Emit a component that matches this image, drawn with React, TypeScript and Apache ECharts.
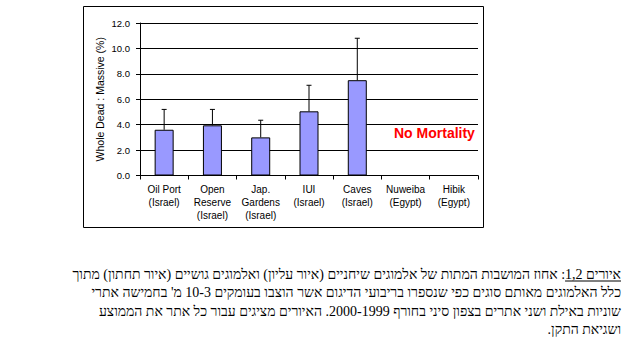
import React, { useEffect, useRef } from "react";
import * as echarts from "echarts";

// ---- data ----
const categories: string[] = [
  "Oil Port\n(Israel)",
  "Open\nReserve\n(Israel)",
  "Jap.\nGardens\n(Israel)",
  "IUI\n(Israel)",
  "Caves\n(Israel)",
  "Nuweiba\n(Egypt)",
  "Hibik\n(Egypt)",
];
const means: (number | null)[] = [3.6, 3.95, 3.0, 5.05, 7.5, null, null];
const stdErrors: (number | null)[] = [1.6, 1.25, 1.35, 2.05, 3.3, null, null];
const yMin = 0;
const yMax = 12;
const yStep = 2;
const yAxisTitle = "Whole Dead : Massive (%)";
const noteText = "No Mortality";

const RLM = "\u200F";
const captionLabel = "איורים 1,2";
const captionLines: string[] = [
  ": אחוז המושבות המתות של אלמוגים שיחניים (איור עליון) ואלמוגים גושיים (איור תחתון) מתוך",
  "כלל האלמוגים מאותם סוגים כפי שנספרו בריבועי הדיגום אשר הוצבו בעומקים 3" + RLM + "-" + RLM + "10 מ' בחמישה אתרי",
  "שוניות באילת ושני אתרים בצפון סיני בחורף 1999" + RLM + "-" + RLM + "2000. האיורים מציגים עבור כל אתר את הממוצע",
  "ושגיאת התקן.",
];

const SANS = 'Arial, "Liberation Sans", sans-serif';
const SERIF = '"Liberation Serif", "Times New Roman", serif';
const CAP_SIZE = 14;

function measure(text: string, font: string): number {
  const c = document.createElement("canvas").getContext("2d");
  if (!c) return text.length * 6;
  c.font = font;
  return c.measureText(text).width;
}

export default function App() {
  const ref = useRef<HTMLDivElement>(null);
  useEffect(() => {
    if (!ref.current) return;
    const chart = echarts.init(ref.current, undefined, { renderer: "svg" });

    const errData = means
      .map((m, i) => (m == null || stdErrors[i] == null ? null : [i, m, m + (stdErrors[i] as number)]))
      .filter((d) => d != null);

    const capFont = `${CAP_SIZE}px ${SERIF}`;
    const capRight = 621;
    const lineY = [274, 292.5, 311, 329.5];
    const labelW = measure(RLM + captionLabel + RLM, capFont);

    const captionGraphics: any[] = [
      {
        type: "text",
        style: {
          text: RLM + captionLabel + RLM,
          x: capRight,
          y: lineY[0],
          font: capFont,
          fill: "#000",
          align: "right",
          textAlign: "right",
          verticalAlign: "middle",
          textVerticalAlign: "middle",
        },
      },
      {
        type: "line",
        shape: { x1: capRight - labelW, y1: lineY[0] + 7, x2: capRight, y2: lineY[0] + 7 },
        style: { stroke: "#000", lineWidth: 1 },
      },
    ];
    captionLines.forEach((t, i) => {
      captionGraphics.push({
        type: "text",
        style: {
          text: RLM + t + RLM,
          x: i === 0 ? capRight - labelW : capRight,
          y: lineY[i],
          font: capFont,
          fill: "#000",
          align: "right",
          textAlign: "right",
          verticalAlign: "middle",
          textVerticalAlign: "middle",
        },
      });
    });

    const option: any = {
      animation: false,
      backgroundColor: "#fff",
      textStyle: { fontFamily: SANS },
      grid: { left: 140, right: 151, top: 23, bottom: 175.5, containLabel: false },
      xAxis: {
        type: "category",
        data: categories,
        boundaryGap: true,
        axisLine: { show: true, lineStyle: { color: "#000", width: 1 } },
        axisTick: { show: true, length: 4, lineStyle: { color: "#000" } },
        axisLabel: {
          color: "#000",
          fontSize: 10,
          fontFamily: SANS,
          lineHeight: 13,
          margin: 7,
          interval: 0,
        },
        splitLine: { show: false },
      },
      yAxis: {
        type: "value",
        min: yMin,
        max: yMax,
        interval: yStep,
        name: yAxisTitle,
        nameLocation: "middle",
        nameRotate: 90,
        nameGap: 35,
        nameMoveOverlap: false,
        nameTextStyle: { color: "#000", fontSize: 10.5, fontFamily: SANS },
        axisLine: { show: true, lineStyle: { color: "#000", width: 1 } },
        axisTick: { show: true, length: 4, lineStyle: { color: "#000" } },
        axisLabel: {
          color: "#000",
          fontSize: 9.5,
          fontFamily: SANS,
          margin: 10,
          formatter: (v: number) => v.toFixed(1),
        },
        splitLine: { show: true, lineStyle: { color: "#000", width: 1 } },
      },
      series: [
        {
          type: "bar",
          data: means,
          barWidth: 19,
          itemStyle: { color: "#9999FF", borderColor: "#000", borderWidth: 1 },
          z: 2,
        },
        {
          type: "custom",
          data: errData,
          encode: { x: 0, y: [1, 2] },
          z: 3,
          renderItem: (params: any, api: any) => {
            const x = api.value(0);
            const lo = api.coord([x, api.value(1)]);
            const hi = api.coord([x, api.value(2)]);
            return {
              type: "group",
              children: [
                {
                  type: "line",
                  shape: { x1: lo[0], y1: lo[1], x2: hi[0], y2: hi[1] },
                  style: { stroke: "#000", lineWidth: 1 },
                },
                {
                  type: "line",
                  shape: { x1: hi[0] - 2.5, y1: hi[1], x2: hi[0] + 2.5, y2: hi[1] },
                  style: { stroke: "#000", lineWidth: 1 },
                },
              ],
            };
          },
        },
      ],
      graphic: [
        {
          type: "rect",
          shape: { x: 83.5, y: 6.5, width: 400, height: 221 },
          style: { fill: "none", stroke: "#000", lineWidth: 1 },
          z: 0,
        },
        {
          type: "text",
          style: {
            text: noteText,
            x: 394,
            y: 133,
            font: `bold 14px ${SANS}`,
            fill: "#FF0000",
            align: "left",
            textAlign: "left",
            verticalAlign: "middle",
            textVerticalAlign: "middle",
          },
        },
        ...captionGraphics,
      ],
    };
    chart.setOption(option);
    return () => chart.dispose();
  }, []);
  return (
    <div
      ref={ref}
      style={{ position: "absolute", left: 0, top: 0, width: 629, height: 351, background: "#fff" }}
    />
  );
}
